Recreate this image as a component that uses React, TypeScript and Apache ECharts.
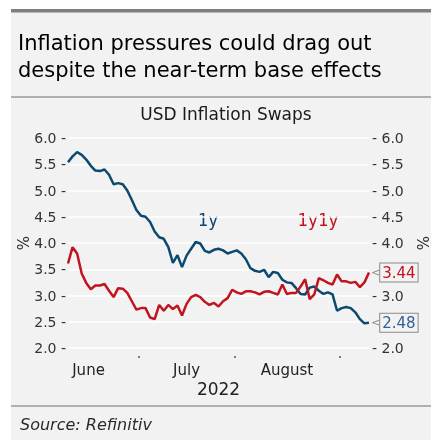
import React, { useEffect, useRef } from "react";
import * as echarts from "echarts";

// ---- data ----
const FIRST_DATE = "2022-06-09";
const LAST_DATE = "2022-09-09";
const AXIS_BASE = "2022-06-01";
const monthNames = ["June", "July", "August"];
const monthStarts = ["2022-06-01", "2022-07-01", "2022-08-01", "2022-09-01"];
const yearLabel = "2022";
const seriesNames = ["1y", "1y1y"];

const oneY = [
  5.54, 5.65, 5.73, 5.68, 5.59, 5.47, 5.38, 5.37, 5.40, 5.30,
  5.12, 5.14, 5.12, 5.00, 4.82, 4.63, 4.52, 4.50, 4.40, 4.22,
  4.11, 4.08, 3.92, 3.62, 3.77, 3.54, 3.76, 3.89, 4.02, 3.99,
  3.85, 3.82, 3.87, 3.89, 3.86, 3.80, 3.83, 3.86, 3.80, 3.69,
  3.52, 3.47, 3.45, 3.49, 3.35, 3.45, 3.43, 3.30, 3.25, 3.24,
  3.14, 3.03, 3.02, 3.15, 3.17, 3.09, 3.03, 3.06, 3.02, 2.71,
  2.76, 2.78, 2.76, 2.68, 2.55, 2.47, 2.48,
];

const oneYOneY = [
  3.61, 3.92, 3.80, 3.42, 3.24, 3.12, 3.19, 3.19, 3.22, 3.09,
  2.97, 3.14, 3.13, 3.05, 2.89, 2.73, 2.76, 2.76, 2.58, 2.55,
  2.82, 2.71, 2.82, 2.74, 2.81, 2.62, 2.84, 2.97, 3.01, 2.97,
  2.88, 2.82, 2.86, 2.79, 2.89, 2.95, 3.11, 3.06, 3.03, 3.08,
  3.08, 3.06, 3.02, 3.07, 3.08, 3.05, 3.02, 3.21, 3.03, 3.05,
  3.05, 3.17, 3.31, 2.93, 3.02, 3.33, 3.29, 3.24, 3.21, 3.40,
  3.27, 3.27, 3.24, 3.26, 3.16, 3.25, 3.44,
];

const yMin = 2;
const yMax = 6;
const yStep = 0.5;

// ---- helpers ----
const DAY = 86400000;
const toUTC = (s: string) => {
  const [y, m, d] = s.split("-").map(Number);
  return Date.UTC(y, m - 1, d);
};
const isWeekday = (t: number) => {
  const w = new Date(t).getUTCDay();
  return w !== 0 && w !== 6;
};
// trading-day index counted from AXIS_BASE
const tradingIndex = (s: string) => {
  let n = 0;
  for (let t = toUTC(AXIS_BASE); t < toUTC(s); t += DAY) if (isWeekday(t)) n++;
  return n;
};
const tradingDates = (() => {
  const out: string[] = [];
  for (let t = toUTC(FIRST_DATE); t <= toUTC(LAST_DATE); t += DAY) {
    if (isWeekday(t)) out.push(new Date(t).toISOString().slice(0, 10));
  }
  return out;
})();

const BLUE = "#0b4a6f";
const RED = "#c0141f";
const FONT = "'DejaVu Sans', sans-serif";
const MONO = "'DejaVu Sans Mono', monospace";

export default function App() {
  const ref = useRef<HTMLDivElement>(null);

  useEffect(() => {
    if (!ref.current) return;
    const chart = echarts.init(ref.current, null, { renderer: "svg" });

    const xs = tradingDates.map(tradingIndex);
    const boundaries = monthStarts.map((m) => tradingIndex(m) - 0.5);
    const tickVals = boundaries.slice(1);
    const labelVals = monthNames.map((_, i) => (boundaries[i] + boundaries[i + 1]) / 2);
    const monthFor = (v: number) => {
      let best = 0;
      labelVals.forEach((lv, i) => {
        if (Math.abs(lv - v) < Math.abs(labelVals[best] - v)) best = i;
      });
      return monthNames[best];
    };
    const lastValues = [oneY[oneY.length - 1], oneYOneY[oneYOneY.length - 1]];

    const endLabel = (color: string) => ({
      show: true,
      distance: 2,
      formatter: (p: any) => `{arr|<}{box|${Number(p.value[1]).toFixed(2)}}`,
      rich: {
        arr: { color: "#8a8a8a", fontSize: 11, fontFamily: FONT },
        box: {
          color,
          fontSize: 15,
          fontFamily: FONT,
          borderColor: "#8a8a8a",
          borderWidth: 1,
          padding: [2, 2, 1, 2],
          backgroundColor: "#f2f2f2",
        },
      },
    });

    chart.setOption({
      animation: false,
      backgroundColor: "transparent",
      graphic: [
        { type: "rect", shape: { x: 11, y: 12, width: 420, height: 428 }, style: { fill: "#f2f2f2" }, z: -10 },
        { type: "rect", shape: { x: 11, y: 9, width: 420, height: 3.5 }, style: { fill: "#7f7f7f" } },
        { type: "line", shape: { x1: 11, y1: 97, x2: 431, y2: 97 }, style: { stroke: "#9a9a9a", lineWidth: 1.5 } },
        { type: "line", shape: { x1: 11, y1: 406, x2: 431, y2: 406 }, style: { stroke: "#9a9a9a", lineWidth: 1.5 } },
        {
          type: "text", x: 18, y: 43,
          style: { text: "Inflation pressures could drag out", fontSize: 21, fontFamily: FONT, fill: "#000", verticalAlign: "middle" },
        },
        {
          type: "text", x: 18, y: 70,
          style: { text: "despite the near-term base effects", fontSize: 21, fontFamily: FONT, fill: "#000", verticalAlign: "middle" },
        },
        {
          type: "text", x: 226, y: 114,
          style: { text: "USD Inflation Swaps", fontSize: 17, fontFamily: FONT, fill: "#1a1a1a", align: "center", verticalAlign: "middle" },
        },
        {
          type: "text", x: 208, y: 220,
          style: { text: seriesNames[0], fontSize: 17, fontFamily: MONO, fill: BLUE, align: "center", verticalAlign: "middle" },
        },
        {
          type: "text", x: 318, y: 220,
          style: { text: seriesNames[1], fontSize: 17, fontFamily: MONO, fill: RED, align: "center", verticalAlign: "middle" },
        },
        {
          type: "text", x: 20, y: 424,
          style: { text: "Source: Refinitiv", fontSize: 16, fontStyle: "italic", fontFamily: FONT, fill: "#2a2a2a", verticalAlign: "middle" },
        },
      ],
      grid: { left: 68, right: 62, top: 138, bottom: 92, containLabel: false, outerBoundsMode: "none" },
      xAxis: {
        type: "value",
        min: xs[0],
        max: xs[xs.length - 1],
        offset: 8,
        axisLine: { show: false },
        splitLine: { show: false },
        axisTick: { show: true, customValues: tickVals, length: 2, lineStyle: { color: "#555", width: 1.5 } },
        axisLabel: { customValues: labelVals, formatter: (v: number) => monthFor(v), margin: 6, fontSize: 15, fontFamily: FONT, color: "#222" },
        name: yearLabel,
        nameLocation: "middle",
        nameGap: 24,
        nameMoveOverlap: false,
        nameTextStyle: { fontSize: 17, fontFamily: FONT, color: "#222" },
      },
      yAxis: [
        {
          type: "value",
          position: "left",
          min: yMin, max: yMax, interval: yStep,
          axisLine: { show: false },
          axisTick: { show: false },
          splitLine: { show: true, lineStyle: { color: "#ffffff", width: 1.5 } },
          axisLabel: { formatter: (v: number) => `${v.toFixed(1)} -`, margin: 2, fontSize: 14, fontFamily: FONT, color: "#333" },
          name: "%",
          nameLocation: "middle",
          nameRotate: 90,
          nameGap: 37,
          nameMoveOverlap: false,
          nameTextStyle: { fontSize: 15, fontFamily: FONT, color: "#333" },
        },
        {
          type: "value",
          position: "right",
          min: yMin, max: yMax, interval: yStep,
          axisLine: { show: false },
          axisTick: { show: false },
          splitLine: { show: false },
          axisLabel: {
            formatter: (v: number) => (lastValues.some((lv) => Math.abs(lv - v) < 0.1) ? "" : `- ${v.toFixed(1)}`),
            margin: 3, fontSize: 14, fontFamily: FONT, color: "#333",
          },
          name: "%",
          nameLocation: "middle",
          nameRotate: 90,
          nameGap: 47,
          nameMoveOverlap: false,
          nameTextStyle: { fontSize: 15, fontFamily: FONT, color: "#333" },
        },
      ],
      series: [
        {
          name: seriesNames[0],
          type: "line",
          yAxisIndex: 0,
          data: xs.map((x, i) => [x, oneY[i]]),
          showSymbol: false,
          lineStyle: { color: BLUE, width: 2.5 },
          itemStyle: { color: BLUE },
          endLabel: endLabel("#2f5f99"),
        },
        {
          name: seriesNames[1],
          type: "line",
          yAxisIndex: 0,
          data: xs.map((x, i) => [x, oneYOneY[i]]),
          showSymbol: false,
          lineStyle: { color: RED, width: 2.5 },
          itemStyle: { color: RED },
          endLabel: endLabel(RED),
        },
      ],
    });

    return () => chart.dispose();
  }, []);

  return (
    <div
      ref={ref}
      style={{ position: "fixed", left: 0, top: 0, width: 431, height: 440 }}
    />
  );
}
